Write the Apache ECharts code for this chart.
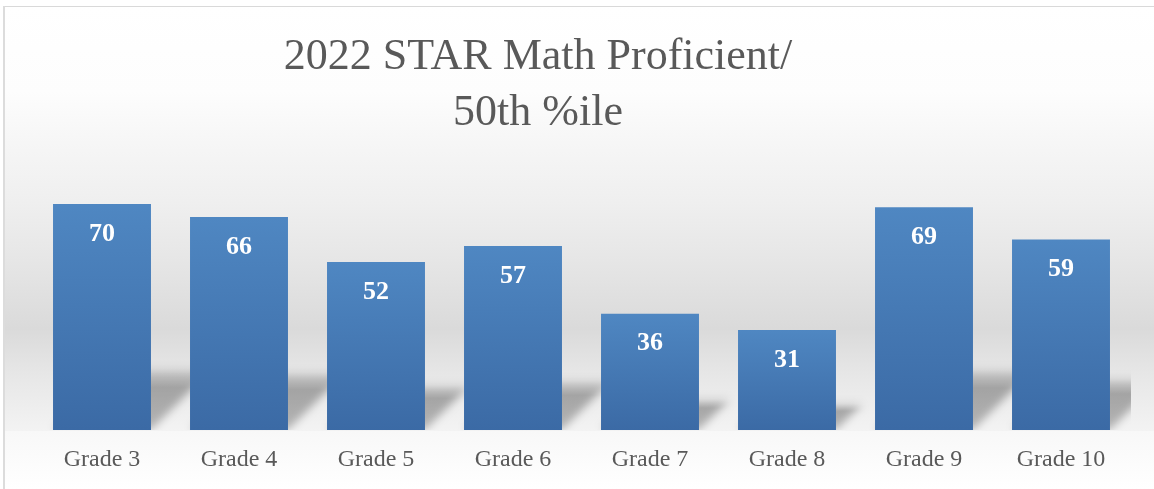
<!DOCTYPE html>
<html><head><meta charset="utf-8">
<script src="https://cdn.jsdelivr.net/npm/echarts@6/dist/echarts.min.js"></script>
<style>html,body{margin:0;padding:0;background:#fff}#c{width:1154px;height:489px}</style>
</head><body><div id="c"></div>
<script>
const titleLines = ['2022 STAR Math Proficient/', '50th %ile'];
const categories = ['Grade 3','Grade 4','Grade 5','Grade 6','Grade 7','Grade 8','Grade 9','Grade 10'];
const values = [70, 66, 52, 57, 36, 31, 69, 59];
const yMin = 0, yMax = 80;

const chart = echarts.init(document.getElementById('c'));
const serif = 'Liberation Serif';
const gapFrac = 0.285;
const OFF = 3000;

chart.setOption({
  animation: false,
  backgroundColor: '#ffffff',
  title: {
    text: titleLines.join('\n'),
    left: 538, top: 29, textAlign: 'center', padding: 0,
    textStyle: {fontFamily: serif, fontSize: 44, fontWeight: 'normal', color: '#595959', lineHeight: 56}
  },
  graphic: [
    {type:'rect', z:-100, shape:{x:4, y:6, width:1150, height:425},
     style:{fill:new echarts.graphic.LinearGradient(0,0,0,1,[
       {offset:0,color:'#ffffff'},{offset:0.2,color:'#fdfdfd'},{offset:0.34,color:'#f5f5f5'},
       {offset:0.46,color:'#efefef'},{offset:0.6,color:'#e6e6e6'},{offset:0.76,color:'#dadada'},
       {offset:0.86,color:'#e6e6e6'},{offset:1,color:'#f3f3f3'}])}},
    {type:'rect', z:1.5, shape:{x:5, y:431, width:1149, height:58},
     style:{fill:new echarts.graphic.LinearGradient(0,0,0,1,[
       {offset:0,color:'#f8f8f8'},{offset:1,color:'#ffffff'}])}},
    {type:'rect', z:-99, shape:{x:3, y:6, width:1151, height:1}, style:{fill:'#d9d9d9'}},
    {type:'rect', z:1.6, shape:{x:3, y:6, width:2, height:483}, style:{fill:'#dcdcdc'}}
  ],
  grid: {left: 33.5, right: 24.5, top: 171.7, bottom: 59},
  xAxis: {
    type: 'category', data: categories, z: 3,
    axisLine:{show:false}, axisTick:{show:false}, splitLine:{show:false},
    axisLabel:{interval:0, margin:18, color:'#595959', fontFamily:serif, fontSize:24}
  },
  yAxis: {type:'value', min:yMin, max:yMax, show:false, splitLine:{show:false}},
  series: [
    {
      type: 'custom', z: 1, clip: false,
      data: values.map((v,i)=>[i,v]),
      encode: {x:0, y:1},
      silent: true,
      renderItem: function(params, api){
        const i = api.value(0), v = api.value(1);
        const base = api.coord([i, 0]);
        const top = api.coord([i, v]);
        const bw = api.size([1,0])[0]*(1-gapFrac);
        const xl = base[0]-bw/2, xr = base[0]+bw/2, y0 = base[1];
        const h = Math.min((y0-top[1])*0.27, 62);
        const d = h*1.0;
        const cs = params.coordSys;
        return {
          type:'group',
          clipPath:{type:'rect', shape:{x:cs.x, y:cs.y, width:cs.width+1.5, height:cs.height}},
          children:[{
            type:'polygon',
            shape:{points:[[xl-OFF,y0],[xr-OFF,y0],[xr+d-OFF,y0-h],[xl+d-OFF,y0-h]]},
            style:{
              fill:new echarts.graphic.LinearGradient(0,0,0,1,[
                {offset:0,color:'rgba(0,0,0,0.4)'},{offset:0.3,color:'rgba(0,0,0,1)'},
                {offset:1,color:'rgba(0,0,0,0.85)'}]),
              shadowBlur: 9, shadowColor:'rgba(0,0,0,0.3)', shadowOffsetX: OFF, shadowOffsetY: 0
            }
          }]
        };
      }
    },
    {
      type: 'bar', z: 2,
      data: values,
      barCategoryGap: (gapFrac*100)+'%',
      itemStyle: {color: new echarts.graphic.LinearGradient(0,0,0,1,[
        {offset:0,color:'#4f87c2'},{offset:1,color:'#3b6aa5'}])},
      label: {show:true, position:'insideTop', distance:17, color:'#ffffff',
        fontFamily: serif, fontWeight:'bold', fontSize:26}
    }
  ]
});
</script></body></html>
